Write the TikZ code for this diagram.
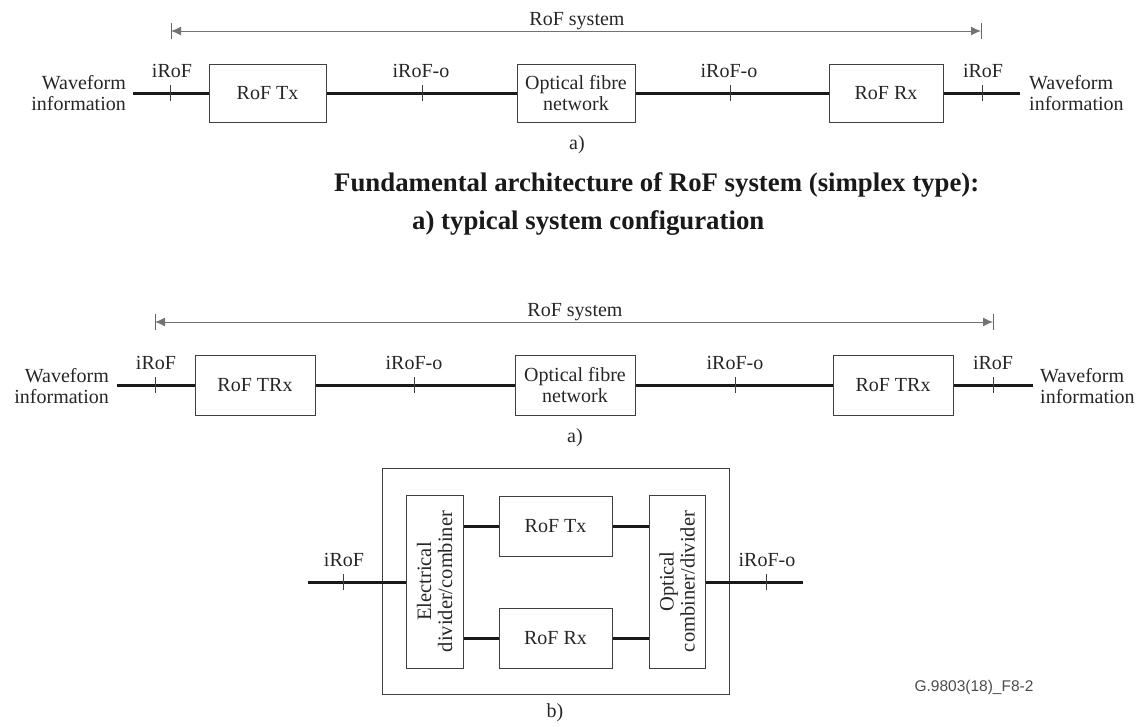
\documentclass[tikz,border=0pt]{standalone}
\usepackage{fontspec}
\setmainfont{Liberation Serif}
\newfontfamily\labelsans{Liberation Sans}
\usetikzlibrary{arrows.meta}
\begin{document}
\begin{tikzpicture}[x=1pt,y=-1pt,
  every node/.style={font=\fontsize{20}{21}\selectfont, text=black!85, inner sep=0pt},
  blk/.style={draw=black!75, line width=1pt, minimum height=58pt, align=center},
  wire/.style={line width=3pt, black!90},
  tickmark/.style={line width=1pt, black!75},
  dimarr/.style={line width=1pt, black!55, {Latex[length=10pt,width=9pt]}-{Latex[length=10pt,width=9pt]}},
  dimbar/.style={line width=1pt, black!60},
  ttl/.style={font=\fontsize{26.8}{30}\selectfont\bfseries, text=black!90, anchor=base west},
  lbl/.style={anchor=base},
]
\useasboundingbox (0,0) rectangle (1145,726);

% ================= Top diagram =================
\coordinate (s1l) at (171,31);
\coordinate (s1r) at (981,31);
\draw[dimarr] (s1l) -- (s1r);
\draw[dimbar] (s1l) ++(0,-8) -- ++(0,16);
\draw[dimbar] (s1r) ++(0,-8) -- ++(0,16);
\node[lbl] (sys1) at (577,25) {RoF system};

\node[blk, minimum width=117pt] (tx1) at (267.5,93) {RoF Tx};
\node[blk, minimum width=118pt] (ofn1) at (576,93) {Optical fibre\\network};
\node[blk, minimum width=114pt] (rx1) at (886,93) {RoF Rx};
\node[align=right, anchor=east] (wl1) at (126,93) {Waveform\\information};
\node[align=left, anchor=west] (wr1) at (1029,93) {Waveform\\information};
\coordinate (l1) at (133,93);
\coordinate (r1) at (1020,93);
\draw[wire] (l1) -- (tx1);
\draw[wire] (tx1) -- (ofn1);
\draw[wire] (ofn1) -- (rx1);
\draw[wire] (rx1) -- (r1);

\coordinate (k11) at (170,93);
\coordinate (k12) at (422,93);
\coordinate (k13) at (730,93);
\coordinate (k14) at (982,93);
\foreach \c in {k11,k12,k13,k14} \draw[tickmark] (\c) ++(0,-8) -- ++(0,16);
\node[lbl] (lk11) at (172,77) {iRoF};
\node[lbl] (lk12) at (421,77) {iRoF-o};
\node[lbl] (lk13) at (729,77) {iRoF-o};
\node[lbl] (lk14) at (983,77) {iRoF};
\node (cap1) at (577,145) {a)};

% ================= Title =================
\node[ttl] (t1) at (334,191) {Fundamental architecture of RoF system (simplex type):};
\node[ttl] (t2) at (412,229) {a) typical system configuration};

% ================= Second diagram =================
\coordinate (s2l) at (155,322);
\coordinate (s2r) at (993,322);
\draw[dimarr] (s2l) -- (s2r);
\draw[dimbar] (s2l) ++(0,-8) -- ++(0,16);
\draw[dimbar] (s2r) ++(0,-8) -- ++(0,16);
\node[lbl] (sys2) at (575,316) {RoF system};

\node[blk, minimum width=120pt, minimum height=60pt] (tx2) at (255,385) {RoF TRx};
\node[blk, minimum width=120pt, minimum height=60pt] (ofn2) at (575,385) {Optical fibre\\network};
\node[blk, minimum width=120pt, minimum height=60pt] (rx2) at (893,385) {RoF TRx};
\node[align=right, anchor=east] (wl2) at (109,386) {Waveform\\information};
\node[align=left, anchor=west] (wr2) at (1040,386) {Waveform\\information};
\coordinate (l2) at (117,385);
\coordinate (r2) at (1033,385);
\draw[wire] (l2) -- (tx2);
\draw[wire] (tx2) -- (ofn2);
\draw[wire] (ofn2) -- (rx2);
\draw[wire] (rx2) -- (r2);

\coordinate (k21) at (155,385);
\coordinate (k22) at (414,385);
\coordinate (k23) at (735,385);
\coordinate (k24) at (993,385);
\foreach \c in {k21,k22,k23,k24} \draw[tickmark] (\c) ++(0,-8) -- ++(0,16);
\node[lbl] (lk21) at (156,369) {iRoF};
\node[lbl] (lk22) at (414,369) {iRoF-o};
\node[lbl] (lk23) at (735,369) {iRoF-o};
\node[lbl] (lk24) at (993,369) {iRoF};
\node (cap2) at (575,438) {a)};

% ================= Bottom diagram b) =================
\node[draw=black!75, line width=1pt, minimum width=347pt, minimum height=226pt] (outer) at (555.5,581) {};
\node[blk, rotate=90, minimum width=173pt, minimum height=57pt, font=\fontsize{20.5}{21}\selectfont] (edc) at (434.5,581.5) {Electrical\\divider/combiner};
\node[blk, rotate=90, minimum width=173pt, minimum height=56pt, font=\fontsize{20.5}{21}\selectfont] (occ) at (677,581.5) {Optical\\combiner/divider};
\node[blk, minimum width=113pt, minimum height=60pt] (tx3) at (555.5,526) {RoF Tx};
\node[blk, minimum width=113pt, minimum height=60pt] (rx3) at (555.5,638) {RoF Rx};

\coordinate (l3) at (308,582);
\coordinate (r3) at (803,582);
\draw[wire] (l3) -- (l3 -| edc.north);
\draw[wire] (occ.south |- r3) -- (r3);
\draw[wire] (tx3.west) -- (tx3.west -| edc.south);
\draw[wire] (rx3.west) -- (rx3.west -| edc.south);
\draw[wire] (tx3.east) -- (tx3.east -| occ.north);
\draw[wire] (rx3.east) -- (rx3.east -| occ.north);

\coordinate (k31) at (343,582);
\coordinate (k32) at (766,582);
\foreach \c in {k31,k32} \draw[tickmark] (\c) ++(0,-8) -- ++(0,16);
\node[lbl] (lk31) at (344,566) {iRoF};
\node[lbl] (lk32) at (767,566) {iRoF-o};
\node (cap3) at (555,713) {b)};

\node[font=\labelsans\fontsize{15.5}{17}\selectfont, text=black!70] (fig) at (974,687) {G.9803(18)\_F8-2};
\end{tikzpicture}
\end{document}
